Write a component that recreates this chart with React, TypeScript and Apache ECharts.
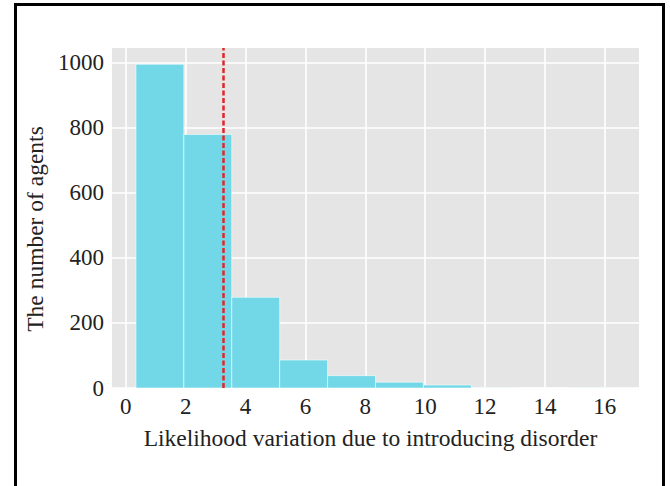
import React, { useEffect, useRef } from "react";
import * as echarts from "echarts";

const binEdges = [0.34, 1.94, 3.54, 5.14, 6.74, 8.34, 9.94, 11.54, 13.14, 14.74, 16.34];
const counts = [996, 780, 279, 86, 38, 18, 9, 1, 0, 1];
const xTicks = [0, 2, 4, 6, 8, 10, 12, 14, 16];
const yTicks = [0, 200, 400, 600, 800, 1000];
const meanValue = 3.27;
const xLabel = "Likelihood variation due to introducing disorder";
const yLabel = "The number of agents";

const FONT = "'Liberation Serif', 'DejaVu Serif', serif";

export default function App() {
  const ref = useRef<HTMLDivElement>(null);
  useEffect(() => {
    if (!ref.current) return;
    const chart = echarts.init(ref.current, null, { renderer: "svg" });
    const barData = counts.map((c, i) => [binEdges[i], binEdges[i + 1], c]);
    chart.setOption({
      animation: false,
      backgroundColor: "#ffffff",
      grid: {
        left: 112,
        right: 31,
        top: 48,
        bottom: 98,
        show: true,
        backgroundColor: "#e5e5e5",
        borderWidth: 0,
      },
      graphic: [
        {
          type: "rect",
          shape: { x: 15.5, y: 4.5, width: 648, height: 520 },
          style: { fill: "none", stroke: "#000", lineWidth: 3 },
          z: 100,
        },
      ],
      xAxis: {
        type: "value",
        min: -0.46,
        max: 17.14,
        name: xLabel,
        nameLocation: "middle",
        nameGap: 38,
        nameTextStyle: {
          fontFamily: FONT,
          fontSize: 23.5,
          color: "#222",
          padding: [0, 10, 0, 0],
        },
        axisLine: { show: false },
        axisTick: { show: false, customValues: xTicks },
        axisLabel: {
          customValues: xTicks,
          fontFamily: FONT,
          fontSize: 23,
          color: "#222",
          margin: 7,
          formatter: (v: number) => String(v),
        },
        splitLine: { show: true, lineStyle: { color: "#ffffff", width: 1.6 } },
      },
      yAxis: {
        type: "value",
        min: 0,
        max: 1046,
        name: yLabel,
        nameLocation: "middle",
        nameGap: 62,
        nameTextStyle: {
          fontFamily: FONT,
          fontSize: 23.5,
          color: "#222",
          padding: [0, 22, 0, 0],
        },
        axisLine: { show: false },
        axisTick: { show: false, customValues: yTicks },
        axisLabel: {
          customValues: yTicks,
          fontFamily: FONT,
          fontSize: 23,
          color: "#222",
          margin: 8,
          formatter: (v: number) => String(v),
        },
        splitLine: { show: true, lineStyle: { color: "#ffffff", width: 1.6 } },
      },
      series: [
        {
          type: "custom",
          data: barData,
          encode: { x: [0, 1], y: 2 },
          renderItem: (params: any, api: any) => {
            const p0 = api.coord([api.value(0), 0]);
            const p1 = api.coord([api.value(1), api.value(2)]);
            return {
              type: "rect",
              shape: {
                x: p0[0],
                y: p1[1],
                width: p1[0] - p0[0],
                height: p0[1] - p1[1],
              },
              style: {
                fill: "#72d8e8",
                stroke: "rgba(255,255,255,0.7)",
                lineWidth: 0.8,
              },
            };
          },
          markLine: {
            silent: true,
            symbol: "none",
            label: { show: false },
            lineStyle: { color: "#e42528", type: [5, 2.5], width: 2.5 },
            data: [{ xAxis: meanValue }],
            z: 10,
          },
        },
      ],
    });
    return () => chart.dispose();
  }, []);
  return (
    <div
      ref={ref}
      style={{ position: "fixed", left: 0, top: 0, width: 670, height: 486 }}
    />
  );
}
